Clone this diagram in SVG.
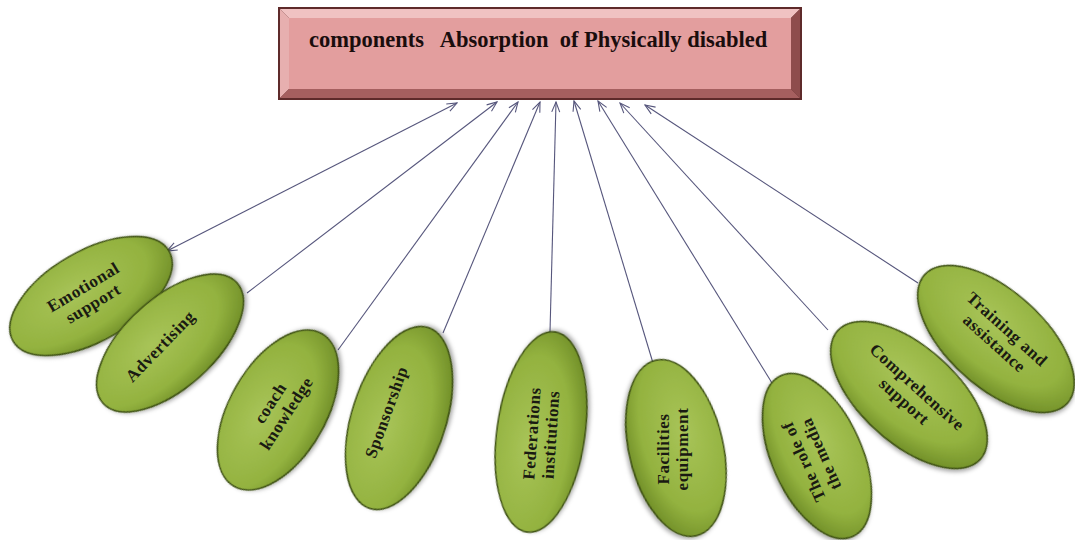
<svg xmlns="http://www.w3.org/2000/svg" width="1075" height="540" viewBox="0 0 1075 540">
<style>
.lbl{font-family:"Liberation Serif","Times New Roman",serif;font-weight:bold;font-size:17px;fill:#1a1a12;text-anchor:middle;letter-spacing:0.6px}
.title{font-family:"Liberation Serif","Times New Roman",serif;font-weight:bold;font-size:22.5px;fill:#1a0d0d}
.leaf{fill:url(#g);stroke:#3f5214;stroke-width:1.6;filter:url(#sh)}
.con{stroke:#56567c;stroke-width:1.1;fill:none}
</style>
<defs>
<radialGradient id="g" cx="0.42" cy="0.38" r="0.65">
<stop offset="0" stop-color="#a8c458"/>
<stop offset="0.7" stop-color="#93b23f"/>
<stop offset="1" stop-color="#718f28"/>
</radialGradient>
<filter id="sh" x="-20%" y="-20%" width="140%" height="140%">
<feDropShadow dx="1.5" dy="2" stdDeviation="2" flood-color="#000" flood-opacity="0.35"/>
</filter>
<marker id="ah" viewBox="0 0 12 10" refX="11" refY="5" markerWidth="12" markerHeight="10" markerUnits="userSpaceOnUse" orient="auto-start-reverse">
<path d="M1,1 L11,5 L1,9" fill="none" stroke="#56567c" stroke-width="1.1"/>
</marker>
</defs>
<rect width="1075" height="540" fill="#ffffff"/>

<g id="title-box">
<rect x="278" y="7" width="524" height="93" fill="#5e2a2a"/>
<polygon points="280,9 800,9 791,18 289,18" fill="#f0c2c2"/>
<polygon points="280,9 289,18 289,89 280,98" fill="#e7afaf"/>
<polygon points="280,98 289,89 791,89 800,98" fill="#a65f5f"/>
<polygon points="800,9 800,98 791,89 791,18" fill="#8e4c4c"/>
<rect x="289" y="18" width="502" height="71" fill="#e39e9e"/>
<text class="title" x="309" y="47" xml:space="preserve">components   Absorption  of Physically disabled</text>
</g>

<g id="connectors">
<line class="con" x1="167" y1="251" x2="457" y2="103" marker-start="url(#ah)" marker-end="url(#ah)"/>
<line class="con" x1="247" y1="293" x2="497" y2="102" marker-end="url(#ah)"/>
<line class="con" x1="338" y1="350" x2="518" y2="102" marker-end="url(#ah)"/>
<line class="con" x1="443" y1="333" x2="540" y2="102" marker-end="url(#ah)"/>
<line class="con" x1="550" y1="332" x2="556" y2="102" marker-end="url(#ah)"/>
<line class="con" x1="653" y1="363" x2="574" y2="101" marker-end="url(#ah)"/>
<line class="con" x1="772" y1="383" x2="598" y2="101" marker-end="url(#ah)"/>
<line class="con" x1="828" y1="330" x2="620" y2="103" marker-end="url(#ah)"/>
<line class="con" x1="918" y1="283" x2="645" y2="105" marker-end="url(#ah)"/>
</g>

<g id="node-emotional">
<ellipse class="leaf" cx="0" cy="0" rx="90" ry="45" transform="translate(91,296) rotate(-30)"/>
<text class="lbl" transform="translate(88,295) rotate(-31)"><tspan x="0" y="-3.5">Emotional</tspan><tspan x="0" y="15.5">support</tspan></text>
</g>

<g id="node-advertising">
<ellipse class="leaf" cx="0" cy="0" rx="90" ry="45" transform="translate(170,343) rotate(-42)"/>
<text class="lbl" transform="translate(160,346) rotate(-46)"><tspan x="0" y="6">Advertising</tspan></text>
</g>

<g id="node-coach">
<ellipse class="leaf" cx="0" cy="0" rx="88" ry="48" transform="translate(278,410) rotate(-60)"/>
<text class="lbl" transform="translate(278,408) rotate(-57)"><tspan x="0" y="-3.5">coach</tspan><tspan x="0" y="15.5">knowledge</tspan></text>
</g>

<g id="node-sponsorship">
<ellipse class="leaf" cx="0" cy="0" rx="95" ry="47" transform="translate(399,418) rotate(-72)"/>
<text class="lbl" transform="translate(386,412) rotate(-70)"><tspan x="0" y="6">Sponsorship</tspan></text>
</g>

<g id="node-federations">
<ellipse class="leaf" cx="0" cy="0" rx="101" ry="44" transform="translate(541,432) rotate(-82)"/>
<text class="lbl" transform="translate(541,434) rotate(-86)"><tspan x="0" y="-3.5">Federations</tspan><tspan x="0" y="15.5">institutions</tspan></text>
</g>

<g id="node-facilities">
<ellipse class="leaf" cx="0" cy="0" rx="90" ry="47" transform="translate(676,448) rotate(77)"/>
<text class="lbl" transform="translate(672,449) rotate(-90)"><tspan x="0" y="-3.5">Facilities</tspan><tspan x="0" y="15.5">equipment</tspan></text>
</g>

<g id="node-media">
<ellipse class="leaf" cx="0" cy="0" rx="88" ry="45" transform="translate(817,456) rotate(66)"/>
<text class="lbl" transform="translate(812,458) rotate(-114)"><tspan x="0" y="-3.5">The role of</tspan><tspan x="0" y="15.5">the media</tspan></text>
</g>

<g id="node-comprehensive">
<ellipse class="leaf" cx="0" cy="0" rx="96" ry="48" transform="translate(909,395) rotate(42)"/>
<text class="lbl" transform="translate(911,394) rotate(42)"><tspan x="0" y="-3.5">Comprehensive</tspan><tspan x="0" y="15.5">support</tspan></text>
</g>

<g id="node-training">
<ellipse class="leaf" cx="0" cy="0" rx="96" ry="48" transform="translate(996,339) rotate(42)"/>
<text class="lbl" transform="translate(1001,336) rotate(42)"><tspan x="0" y="-3.5">Training and</tspan><tspan x="0" y="15.5">assistance</tspan></text>
</g>
</svg>
